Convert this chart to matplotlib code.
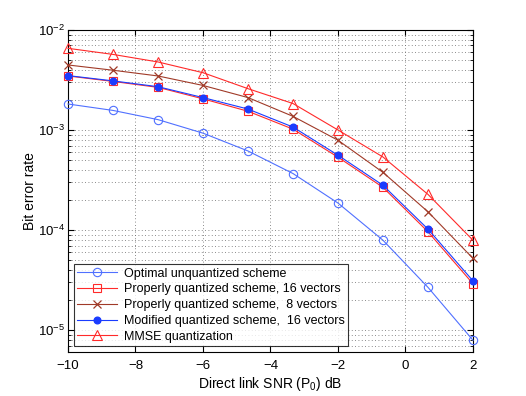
import matplotlib
matplotlib.use("Agg")
import matplotlib.pyplot as plt
from matplotlib.ticker import LogLocator, NullFormatter

plt.rcParams['font.family'] = ['Liberation Sans', 'DejaVu Sans']
plt.rcParams['mathtext.fontset'] = 'custom'
plt.rcParams['mathtext.rm'] = 'Liberation Sans'
plt.rcParams['mathtext.it'] = 'Liberation Sans'

snr = [-10, -8.667, -7.333, -6, -4.667, -3.333, -2, -0.667, 0.667, 2]
optimal = [1.82e-3, 1.57e-3, 1.27e-3, 9.3e-4, 6.17e-4, 3.67e-4, 1.86e-4, 7.9e-5, 2.67e-5, 7.9e-6]
prop16 = [3.47e-3, 3.06e-3, 2.67e-3, 2.05e-3, 1.54e-3, 1.02e-3, 5.35e-4, 2.67e-4, 9.6e-5, 2.9e-5]
prop8 = [4.47e-3, 3.96e-3, 3.47e-3, 2.79e-3, 2.11e-3, 1.37e-3, 7.9e-4, 3.77e-4, 1.52e-4, 5.2e-5]
mod16 = [3.5e-3, 3.1e-3, 2.71e-3, 2.11e-3, 1.62e-3, 1.07e-3, 5.6e-4, 2.8e-4, 1.02e-4, 3.1e-5]
mmse = [6.56e-3, 5.7e-3, 4.79e-3, 3.74e-3, 2.59e-3, 1.84e-3, 1.0e-3, 5.37e-4, 2.27e-4, 7.9e-5]

labels = ["Optimal unquantized scheme",
          "Properly quantized scheme, 16 vectors",
          "Properly quantized scheme,  8 vectors",
          "Modified quantized scheme,  16 vectors",
          "MMSE quantization"]

fig = plt.figure(figsize=(5.26, 3.96), dpi=100)
ax = fig.add_axes([68/526, 1-352/396, (473-68)/526, (352-30)/396])

lw = 0.8
kw = dict(clip_on=False, zorder=3)
ax.plot(snr, optimal, color='#5070ff', lw=lw, marker='o', ms=6, mfc='none', mec='#5070ff', mew=0.8, label=labels[0], **kw)
ax.plot(snr, prop16, color='#ff2a2a', lw=lw, marker='s', ms=5.5, mfc='none', mec='#ff2a2a', mew=0.8, label=labels[1], **kw)
ax.plot(snr, prop8, color='#a03a28', lw=lw, marker='x', ms=6, mec='#a03a28', mew=0.9, label=labels[2], **kw)
ax.plot(snr, mod16, color='#1a3cff', lw=lw, marker='o', ms=4.8, mfc='#1a3cff', mec='#1a3cff', label=labels[3], **kw)
ax.plot(snr, mmse, color='#ff2a2a', lw=lw, marker='^', ms=6.5, mfc='none', mec='#ff2a2a', mew=0.8, label=labels[4], **kw)

ax.set_yscale('log')
ax.set_xlim(-10, 2)
ax.set_ylim(6.03e-6, 1e-2)
ax.yaxis.set_major_locator(LogLocator(base=10, numticks=10))
ax.yaxis.set_minor_locator(LogLocator(base=10, subs=range(2, 10), numticks=20))
ax.yaxis.set_minor_formatter(NullFormatter())
ax.set_xticks([-10, -8, -6, -4, -2, 0, 2])
ax.set_xticklabels(['\u221210', '\u22128', '\u22126', '\u22124', '\u22122', '0', '2'])

ax.grid(True, which='major', linestyle=(0, (1, 3)), color='#666666', lw=0.6)
ax.grid(True, which='minor', axis='y', linestyle=(0, (1, 3)), color='#666666', lw=0.6)

ax.tick_params(which='both', direction='in', top=True, right=True, labelsize=9.5)
ax.tick_params(which='major', length=4)
ax.tick_params(which='minor', length=2)
ax.tick_params(axis='x', pad=6)
ax.tick_params(axis='y', pad=2)
for s in ax.spines.values():
    s.set_linewidth(0.8)

ax.set_xlabel('Direct link SNR (P$_0$) dB', fontsize=10, labelpad=2)
ax.set_ylabel('Bit error rate', fontsize=10, labelpad=1)

leg = ax.legend(loc='lower left', fontsize=9, frameon=True, fancybox=False,
                edgecolor='black', borderpad=0.3, labelspacing=0.3,
                handlelength=3.2, handletextpad=0.5, numpoints=1,
                borderaxespad=0.45)
leg.get_frame().set_linewidth(0.8)
leg.set_zorder(5)

fig.savefig('out.png', dpi=100)
